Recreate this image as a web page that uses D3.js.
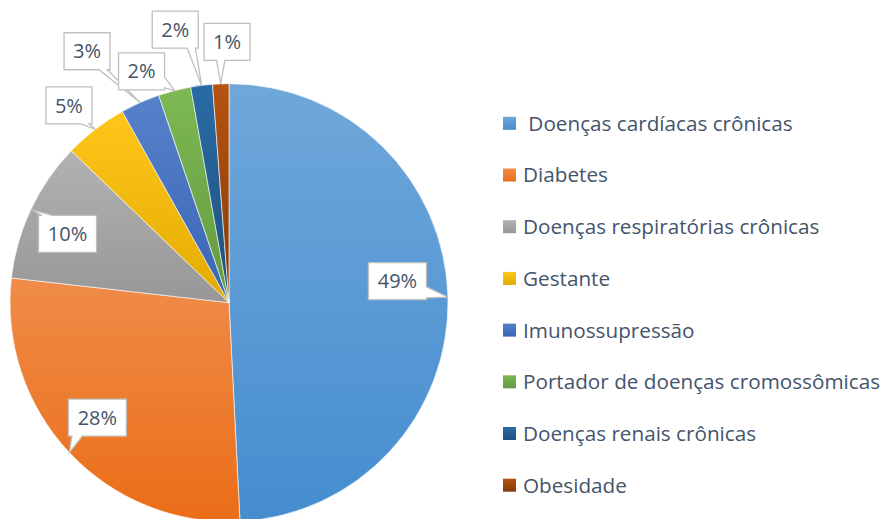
<!DOCTYPE html>
<html>
<head>
<meta charset="utf-8">
<script src="https://cdn.jsdelivr.net/npm/d3@7"></script>
<style>
  body { margin: 0; background: #fff; }
  svg { display: block; font-family: "Open Sans", Lato, sans-serif; }
</style>
</head>
<body>
<div id="chart"></div>
<script>
// Data
var categories = [" Doenças cardíacas crônicas", "Diabetes", "Doenças respiratórias crônicas", "Gestante",
                  "Imunossupressão", "Portador de doenças cromossômicas", "Doenças renais crônicas", "Obesidade"];
var values = [49.2, 27.6, 10.4, 4.7, 2.9, 2.4, 1.6, 1.2];
var pctLabels = ["49%", "28%", "10%", "5%", "3%", "2%", "2%", "1%"];
var colorList = ["#5b9bd5", "#ed7d31", "#a5a5a5", "#ffc000", "#4472c4", "#70ad47", "#255e91", "#9e480e"];

var width = 883, height = 519;
var cx = 229, cy = 302.7, radius = 219;
var textColor = "#44546a";

// callout box offset from the tip point (layout only)
var calloutOffset = [[-50.5, -16], [28, -35], [36.7, 24.5], [-26.4, -23.9],
                     [-53.1, -51.3], [-33, -19.3], [-26.3, -55.9], [6.3, -42]];

var data = categories.map(function(c, i) { return {name: c, value: values[i], label: pctLabels[i], i: i}; });

var svg = d3.select("#chart").append("svg")
  .attr("width", width).attr("height", height);

var defs = svg.append("defs");
colorList.forEach(function(c, i) {
  var top = d3.hsl(c), bot = d3.hsl(c);
  top.l = Math.min(1, top.l + 0.05);
  bot.l = bot.l - 0.055;
  var g = defs.append("linearGradient").attr("id", "grad" + i)
    .attr("x1", 0).attr("y1", 0).attr("x2", 0).attr("y2", 1);
  g.append("stop").attr("offset", "0%").attr("stop-color", top.formatHex());
  g.append("stop").attr("offset", "100%").attr("stop-color", bot.formatHex());
});

var pie = d3.pie().sort(null).value(function(d) { return d.value; });
var arc = d3.arc().innerRadius(0).outerRadius(radius);
var arcs = pie(data);

var pieG = svg.append("g").attr("transform", "translate(" + cx + "," + cy + ")");
pieG.selectAll("path")
  .data(arcs)
  .enter()
  .append("path")
  .attr("d", arc)
  .attr("fill", function(d) { return "url(#grad" + d.index + ")"; })
  .attr("stroke", "#fff")
  .attr("stroke-width", 0.6);

// callouts
function calloutPath(x, y, w, h, tx, ty) {
  // find side the tip lies on and build outline with a wedge
  var bx = x + w / 2, by = y + h / 2;
  var rx = (tx - bx) / (w / 2), ry = (ty - by) / (h / 2);
  var pts = [[x, y], [x + w, y], [x + w, y + h], [x, y + h]];
  var side, a, b;
  var half = 0.18;
  if (Math.abs(ry) >= Math.abs(rx)) {
    var base = Math.max(x + w * 0.15, Math.min(x + w * 0.85, tx));
    var bw = w * half;
    if (ry > 0) {
      side = 2;
      a = [Math.min(base + bw / 2, x + w), y + h]; b = [Math.max(base - bw / 2, x), y + h];
    } else {
      side = 0;
      a = [Math.max(base - bw / 2, x), y]; b = [Math.min(base + bw / 2, x + w), y];
    }
  } else {
    var bh = h * 0.3;
    var basey = Math.max(y + h * 0.2, Math.min(y + h * 0.8, ty));
    if (rx > 0) { side = 1; a = [x + w, basey - bh / 2]; b = [x + w, basey + bh / 2]; }
    else { side = 3; a = [x, basey + bh / 2]; b = [x, basey - bh / 2]; }
  }
  var out = [];
  for (var k = 0; k < 4; k++) {
    out.push(pts[k]);
    if (k === side) { out.push(a, [tx, ty], b); }
  }
  return "M" + out.map(function(p) { return p[0] + "," + p[1]; }).join("L") + "Z";
}

var callG = svg.append("g");
arcs.forEach(function(d, i) {
  var mid = (d.startAngle + d.endAngle) / 2;
  var tx = cx + radius * Math.sin(mid), ty = cy - radius * Math.cos(mid);
  var w = d.data.label.length > 2 ? 58 : 46, h = 37;
  var bx = tx + calloutOffset[i][0], by = ty + calloutOffset[i][1];
  callG.append("path")
    .attr("d", calloutPath(bx - w / 2, by - h / 2, w, h, tx, ty))
    .attr("fill", "#fff")
    .attr("stroke", "#bfbfbf")
    .attr("stroke-width", 1.3)
    .attr("stroke-linejoin", "miter");
  callG.append("text")
    .attr("x", bx).attr("y", by)
    .attr("dy", "0.36em")
    .attr("text-anchor", "middle")
    .attr("fill", textColor)
    .attr("font-size", 20)
    .text(d.data.label);
});

// legend
var legend = svg.append("g").attr("transform", "translate(503,123.3)");
var item = legend.selectAll("g")
  .data(data)
  .enter()
  .append("g")
  .attr("transform", function(d, i) { return "translate(0," + (i * 51.7) + ")"; });
item.append("rect")
  .attr("x", 0).attr("y", -6.5)
  .attr("width", 13).attr("height", 13)
  .attr("fill", function(d) { return "url(#grad" + d.i + ")"; });
item.append("text")
  .attr("x", 20).attr("y", 0)
  .attr("dy", "0.36em")
  .attr("fill", textColor)
  .attr("font-size", 20.7)
  .style("white-space", "pre")
  .text(function(d) { return d.name; });
</script>
</body>
</html>
